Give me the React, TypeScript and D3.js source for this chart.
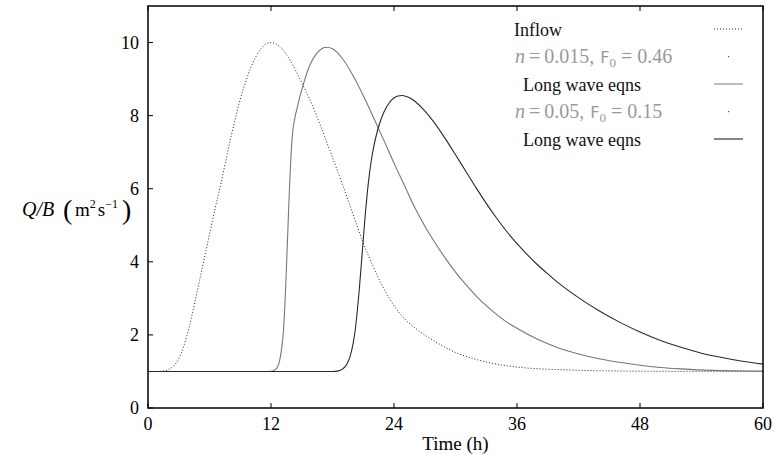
import React, { useEffect, useRef } from "react";
import * as d3 from "d3";

// time (h), Q/B (m^2 s^-1)
const inflowT = [0, 1, 1.5, 2, 2.5, 3, 3.5, 4, 4.5, 5, 5.5, 6, 6.5, 7, 7.5, 8, 8.5, 9, 9.5, 10, 10.5, 11, 11.5, 12, 13, 14, 15, 16, 17, 18, 19, 20, 21, 22, 23, 24, 25, 26, 27, 28, 29, 30, 32, 34, 36, 40, 44, 50, 60];
const inflowQ = [1, 1, 1.01, 1.05, 1.15, 1.35, 1.7, 2.2, 2.8, 3.45, 4.1, 4.75, 5.4, 6.0, 6.65, 7.3, 7.9, 8.45, 8.9, 9.3, 9.6, 9.82, 9.96, 10, 9.85, 9.45, 8.9, 8.3, 7.6, 6.85, 6.1, 5.3, 4.52, 3.85, 3.27, 2.8, 2.45, 2.2, 2.0, 1.82, 1.66, 1.52, 1.33, 1.2, 1.12, 1.05, 1.02, 1.005, 1];

const grayT = [0, 11.5, 12, 12.3, 12.6, 12.8, 13.0, 13.2, 13.35, 13.5, 13.65, 13.8, 13.95, 14.1, 14.3, 14.5, 14.8, 15.2, 15.6, 16.0, 16.5, 17, 17.4, 18, 19, 20, 21, 22, 23, 24, 25, 26, 27, 28, 29, 30, 31, 32, 33, 34, 35, 36, 38, 40, 42, 44, 46, 48, 50, 52, 55, 60];
const grayQ = [1, 1, 1.005, 1.03, 1.1, 1.25, 1.55, 2.05, 2.8, 3.8, 4.9, 6.0, 6.9, 7.5, 7.9, 8.15, 8.5, 8.9, 9.25, 9.5, 9.72, 9.84, 9.87, 9.83, 9.55, 9.1, 8.55, 7.95, 7.33, 6.7, 6.1, 5.5, 4.98, 4.52, 4.1, 3.72, 3.38, 3.07, 2.8, 2.56, 2.35, 2.18, 1.88, 1.65, 1.48, 1.35, 1.25, 1.17, 1.11, 1.07, 1.03, 1.01];

const blackT = [0, 18, 18.5, 19.0, 19.4, 19.7, 20.0, 20.2, 20.4, 20.6, 20.8, 21.0, 21.2, 21.4, 21.6, 21.8, 22.0, 22.4, 22.8, 23.3, 23.8, 24.3, 24.8, 25.4, 26, 27, 28, 29, 30, 31, 32, 33, 34, 35, 36, 37, 38, 39, 40, 42, 44, 46, 48, 50, 52, 54, 56, 58, 60];
const blackQ = [1, 1, 1.01, 1.07, 1.2, 1.4, 1.75, 2.1, 2.6, 3.2, 3.9, 4.6, 5.3, 5.9, 6.4, 6.8, 7.12, 7.6, 7.95, 8.25, 8.44, 8.53, 8.55, 8.5, 8.4, 8.13, 7.78, 7.37, 6.93, 6.48, 6.03, 5.6, 5.2, 4.83, 4.5, 4.2, 3.92, 3.67, 3.43, 3.02, 2.66, 2.35, 2.08, 1.85, 1.66, 1.5, 1.38, 1.28, 1.2];

const xTicks = [0, 12, 24, 36, 48, 60];
const yTicks = [0, 2, 4, 6, 8, 10];

const W = 778, H = 455;
const m = { left: 148, top: 6, right: 763, bottom: 408 };
const serif = "'Liberation Serif', 'DejaVu Serif', serif";

export default function App() {
  const svgRef = useRef<SVGSVGElement>(null);

  useEffect(() => {
    const svg = d3.select(svgRef.current);
    svg.selectAll("*").remove();

    const x = d3.scaleLinear().domain([0, 60]).range([m.left, m.right]);
    const y = d3.scaleLinear().domain([0, 11]).range([m.bottom, m.top]);

    const line = d3.line<[number, number]>()
      .x(d => x(d[0]))
      .y(d => y(d[1]))
      .curve(d3.curveMonotoneX);

    const zip = (a: number[], b: number[]) => a.map((t, i) => [t, b[i]] as [number, number]);

    svg.append("path").attr("d", line(zip(inflowT, inflowQ)))
      .attr("fill", "none").attr("stroke", "#222").attr("stroke-width", 1)
      .attr("stroke-dasharray", "1,2");
    svg.append("path").attr("d", line(zip(grayT, grayQ)))
      .attr("fill", "none").attr("stroke", "#777").attr("stroke-width", 1.1);
    svg.append("path").attr("d", line(zip(blackT, blackQ)))
      .attr("fill", "none").attr("stroke", "#2a2a2a").attr("stroke-width", 1.1);

    // frame
    svg.append("rect")
      .attr("x", m.left).attr("y", m.top)
      .attr("width", m.right - m.left).attr("height", m.bottom - m.top)
      .attr("fill", "none").attr("stroke", "#000").attr("stroke-width", 1.5);

    // ticks, inward, bottom and top
    xTicks.forEach(t => {
      svg.append("line").attr("x1", x(t)).attr("x2", x(t))
        .attr("y1", m.bottom).attr("y2", m.bottom - 5).attr("stroke", "#000");
      svg.append("line").attr("x1", x(t)).attr("x2", x(t))
        .attr("y1", m.top).attr("y2", m.top + 5).attr("stroke", "#000");
      svg.append("text").attr("x", x(t)).attr("y", 430)
        .attr("text-anchor", "middle").style("font-family", serif).attr("font-size", 18)
        .text(t);
    });
    yTicks.forEach(v => {
      svg.append("line").attr("x1", m.left).attr("x2", m.left + 5)
        .attr("y1", y(v)).attr("y2", y(v)).attr("stroke", "#000");
      svg.append("text").attr("x", 139).attr("y", y(v) + 6)
        .attr("text-anchor", "end").style("font-family", serif).attr("font-size", 18)
        .text(v);
    });

    svg.append("text").attr("x", (m.left + m.right) / 2).attr("y", 450)
      .attr("text-anchor", "middle").style("font-family", serif).attr("font-size", 19)
      .text("Time (h)");

    // y label
    const yl = svg.append("g").style("font-family", serif);
    yl.append("text").attr("x", 22).attr("y", 216).attr("font-size", 20)
      .attr("font-style", "italic").text("Q/B");
    yl.append("text").attr("x", 63).attr("y", 219).attr("font-size", 28).text("(");
    const mt = yl.append("text").attr("x", 75).attr("y", 216).attr("font-size", 19);
    mt.append("tspan").text("m");
    mt.append("tspan").attr("font-size", 12).attr("dy", -8).text("2");
    mt.append("tspan").attr("dy", 8).attr("dx", 2).text("s");
    mt.append("tspan").attr("font-size", 12).attr("dy", -8).text("−1");
    yl.append("text").attr("x", 122).attr("y", 219).attr("font-size", 28).text(")");

    // legend
    const lg = svg.append("g").style("font-family", serif).attr("font-size", 18);
    const rowY = [29, 56.5, 84, 111.5, 139];
    const lx1 = 714, lx2 = 743;

    lg.append("text").attr("x", 514).attr("y", rowY[0] + 7).attr("fill", "#111").text("Inflow");
    lg.append("line").attr("x1", lx1).attr("x2", lx2).attr("y1", rowY[0]).attr("y2", rowY[0])
      .attr("stroke", "#222").attr("stroke-dasharray", "1,2");

    const param = (row: number, nv: string, fv: string) => {
      const t = lg.append("text").attr("x", 515).attr("y", rowY[row] + 6.5)
        .attr("fill", "#999").attr("font-size", 20);
      t.append("tspan").attr("font-style", "italic").text("n");
      t.append("tspan").attr("dx", 4).text("=");
      t.append("tspan").attr("dx", 4).text(`${nv},`);
      t.append("tspan").attr("dx", 6).style("font-family", "'DejaVu Sans', sans-serif").attr("font-size", 16).text("F");
      t.append("tspan").attr("font-size", 13).attr("dy", 4).text("0");
      t.append("tspan").attr("dy", -4).attr("dx", 5).text("=");
      t.append("tspan").attr("dx", 5).text(fv);
      lg.append("rect").attr("x", 728).attr("y", rowY[row] - 0.5).attr("width", 1.2).attr("height", 1.2).attr("fill", "#555");
    };
    param(1, "0.015", "0.46");
    param(3, "0.05", "0.15");

    lg.append("text").attr("x", 523).attr("y", rowY[2] + 6.5).attr("fill", "#111").text("Long wave eqns");
    lg.append("line").attr("x1", lx1).attr("x2", lx2).attr("y1", rowY[2]).attr("y2", rowY[2])
      .attr("stroke", "#888").attr("stroke-width", 1.1);
    lg.append("text").attr("x", 523).attr("y", rowY[4] + 6.5).attr("fill", "#111").text("Long wave eqns");
    lg.append("line").attr("x1", lx1).attr("x2", lx2).attr("y1", rowY[4]).attr("y2", rowY[4])
      .attr("stroke", "#222").attr("stroke-width", 1.1);
  }, []);

  return (
    <div style={{ position: "absolute", left: 0, top: 0 }}>
      <svg ref={svgRef} width={W} height={H} style={{ display: "block", background: "#fff" }} />
    </div>
  );
}
